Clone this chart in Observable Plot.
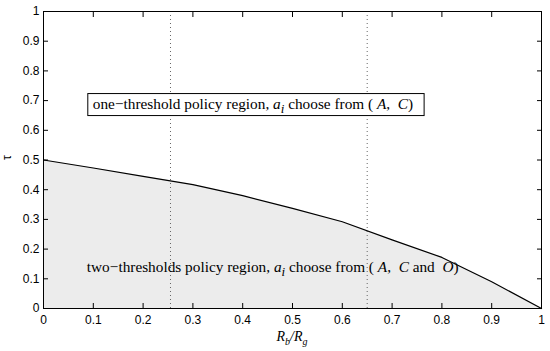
<!DOCTYPE html>
<html><head><meta charset="utf-8">
<script src="https://cdn.jsdelivr.net/npm/d3@7"></script>
<script src="https://cdn.jsdelivr.net/npm/@observablehq/plot@0.6"></script>
<style>body{margin:0;background:#fff} svg{display:block}</style>
</head><body><div id="chart"></div>
<script>
// Boundary curve tau(Rb/Rg)
const ratio = [0, 0.1, 0.2, 0.3, 0.4, 0.5, 0.6, 0.7, 0.8, 0.9, 1.0];
const tau   = [0.5, 0.473, 0.445, 0.417, 0.38, 0.337, 0.292, 0.231, 0.172, 0.09, 0];
// Dotted vertical threshold lines
const thresholds = [0.255, 0.65];
// Ticks
const xTicks = [0, 0.1, 0.2, 0.3, 0.4, 0.5, 0.6, 0.7, 0.8, 0.9, 1];
const yTicks = [0, 0.1, 0.2, 0.3, 0.4, 0.5, 0.6, 0.7, 0.8, 0.9, 1];
const tickLabels = ["0", "0.1", "0.2", "0.3", "0.4", "0.5", "0.6", "0.7", "0.8", "0.9", "1"];
// Annotation anchors (data coords)
const upperLabelPos = [0.1, 0.685];
const lowerLabelPos = [0.088, 0.135];
const upperParts = [["one\u2212threshold policy region, ", ""], ["a", "i"], ["i", "is"], [" choose from ( ", ""], ["A", "i"], [",  ", ""], ["C", "i"], [")", ""]];
const lowerParts = [["two\u2212thresholds policy region, ", ""], ["a", "i"], ["i", "is"], [" choose from ( ", ""], ["A", "i"], [",  ", ""], ["C", "i"], [" and  ", ""], ["O", "i"], [")", ""]];

const data = ratio.map((r, i) => ({r, t: tau[i]}));
const fmt = d => tickLabels[xTicks.indexOf(d)] ?? String(d);

const plot = Plot.plot({
  width: 550, height: 351,
  marginLeft: 43, marginRight: 9, marginTop: 11, marginBottom: 43,
  style: {fontFamily: "'Liberation Sans', Arial, sans-serif", fontSize: "12px", background: "#fff", color: "#000"},
  x: {domain: [0, 1], label: null},
  y: {domain: [0, 1], label: null},
  marks: [
    Plot.areaY(data, {x: "r", y: "t", fill: "#ececec"}),
    Plot.ruleX(thresholds, {y1: 0, y2: 1, stroke: "#666", strokeDasharray: "1,3", strokeWidth: 1}),
    Plot.line(data, {x: "r", y: "t", stroke: "#000", strokeWidth: 1.2}),
    Plot.frame({stroke: "#000", strokeWidth: 1}),
    Plot.axisX({anchor: "bottom", ticks: xTicks, tickSize: -5, tickPadding: 12, tickFormat: fmt, label: null, fill: "#000", fontSize: 12}),
    Plot.axisX({anchor: "top", ticks: xTicks, tickSize: -5, tickFormat: () => null, label: null}),
    Plot.axisY({anchor: "left", ticks: yTicks, tickSize: -5, tickPadding: 9, tickFormat: fmt, label: null, fill: "#000", fontSize: 12}),
    Plot.axisY({anchor: "right", ticks: yTicks, tickSize: -5, tickFormat: () => null, label: null}),
    Plot.text(["τ"], {frameAnchor: "left", dx: -36, rotate: -90, fontSize: 12})
  ]
});
document.getElementById("chart").appendChild(plot);

const sx = plot.scale("x"), sy = plot.scale("y");
const svg = d3.select(plot);
const serif = "'Liberation Serif', 'Times New Roman', serif";

function rich(parts, px, py, size) {
  const t = svg.append("text")
    .attr("x", px).attr("y", py)
    .attr("text-anchor", "start")
    .attr("font-family", serif).attr("font-size", size)
    .attr("fill", "#000").style("white-space", "pre");
  let shifted = false;
  for (const [s, st] of parts) {
    const sp = t.append("tspan").text(s);
    if (st.includes("i")) sp.attr("font-style", "italic");
    if (st.includes("s")) { sp.attr("dy", 4).attr("font-size", size * 0.85); shifted = true; }
    else if (shifted) { sp.attr("dy", -4); shifted = false; }
  }
  return t;
}

// Upper annotation with box
const up = rich(upperParts, sx.apply(upperLabelPos[0]), sy.apply(upperLabelPos[1]) + 4, 15.3);
const bb = up.node().getBBox();
svg.insert("rect", () => up.node())
  .attr("x", bb.x - 5).attr("y", bb.y - 1)
  .attr("width", bb.width + 16).attr("height", bb.height + 1)
  .attr("fill", "#fff").attr("stroke", "#000").attr("stroke-width", 1);

// Lower annotation
rich(lowerParts, sx.apply(lowerLabelPos[0]), sy.apply(lowerLabelPos[1]) + 4, 15.3);

// x-axis label Rb/Rg
const xl = svg.append("text")
  .attr("x", sx.apply(0.5)).attr("y", 341)
  .attr("text-anchor", "middle")
  .attr("font-family", serif).attr("font-size", 14).attr("font-style", "italic").attr("fill", "#000");
xl.append("tspan").text("R");
xl.append("tspan").text("b").attr("dy", 4).attr("font-size", 10);
xl.append("tspan").text("/R").attr("dy", -4);
xl.append("tspan").text("g").attr("dy", 4).attr("font-size", 10);
</script>
</body></html>
